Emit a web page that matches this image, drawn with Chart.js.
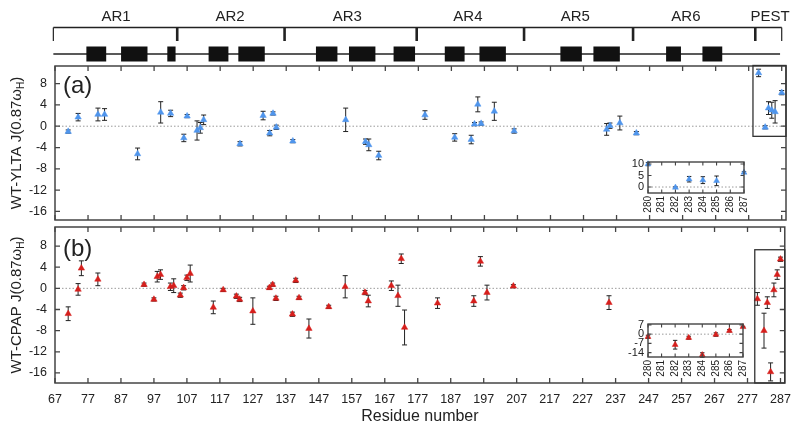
<!DOCTYPE html>
<html>
<head>
<meta charset="utf-8">
<script src="https://cdn.jsdelivr.net/npm/chart.js@4.4.1/dist/chart.umd.min.js"></script>
<style>
  html, body { margin: 0; padding: 0; background: #fff; }
  #wrap { position: relative; width: 800px; height: 430px; overflow: hidden; }
  canvas { position: absolute; left: 0; top: 0; }
</style>
</head>
<body>
<div id="wrap">
  <canvas id="cA" width="800" height="430"></canvas>
  <canvas id="cB" width="800" height="430"></canvas>
  <canvas id="iA" width="800" height="430"></canvas>
  <canvas id="iB" width="800" height="430"></canvas>
</div>
<script>
// ---------------- DATA ----------------
const xTickValues = [67, 77, 87, 97, 107, 117, 127, 137, 147, 157, 167, 177, 187, 197, 207, 217, 227, 237, 247, 257, 267, 277, 287];
const yTickValues = [-16, -12, -8, -4, 0, 4, 8];
const insetXTicks = [280, 281, 282, 283, 284, 285, 286, 287];
const insetATicks = [0, 5, 10];
const insetBTicks = [-14, -7, 0, 7];

// Panel (a): WT-YLTA
const ylResidue = [71, 74, 80, 82, 92, 99, 102, 106, 107, 110, 111, 112, 123, 130, 132, 133, 134, 139, 155, 161, 162, 165, 179, 188, 193, 194, 195, 196, 200, 206, 234, 235, 238, 243, 280, 282, 283, 284, 285, 287];
const ylValue   = [-1.0, 1.7, 2.2, 2.2, -5.2, 2.6, 2.4, -2.2, 1.9, -0.8, -0.3, 1.2, -3.3, 2.0, -1.3, 2.4, -0.2, -2.8, 1.2, -2.9, -3.5, -5.5, 2.1, -2.1, -2.5, 0.4, 4.1, 0.5, 2.8, -0.9, -0.6, 0.1, 0.6, -1.3, 10.0, -0.2, 3.4, 3.0, 2.7, 6.3];
const ylError   = [0.3, 0.7, 1.2, 1.1, 1.1, 2.0, 0.6, 0.7, 0.3, 1.8, 1.0, 0.9, 0.4, 0.8, 0.5, 0.3, 0.4, 0.3, 2.2, 0.5, 1.1, 0.8, 0.8, 0.7, 0.8, 0.3, 1.4, 0.3, 1.7, 0.4, 1.1, 0.5, 1.3, 0.3, 0.7, 0.3, 1.2, 1.5, 2.1, 0.4];

// Panel (b): WT-CPAP
const cpResidue = [71, 74, 75, 80, 94, 97, 98, 99, 102, 103, 105, 106, 107, 108, 115, 118, 122, 123, 127, 132, 133, 134, 139, 140, 141, 144, 150, 155, 161, 162, 169, 171, 172, 173, 183, 194, 196, 198, 206, 235, 280, 282, 283, 284, 285, 286, 287];
const cpValue   = [-4.8, -0.2, 3.8, 1.7, 0.7, -2.1, 2.2, 2.6, 0.3, 0.5, -1.3, 0.1, 2.0, 2.8, -3.6, -0.3, -1.5, -2.1, -4.3, 0.1, 0.7, -1.9, -4.9, 1.5, -1.8, -7.6, -3.5, 0.3, -0.8, -2.4, 0.5, -1.4, 5.6, -7.4, -2.8, -2.4, 5.1, -0.8, 0.4, -2.7, -2.0, -8.0, -2.7, -15.8, -0.3, 2.6, 5.5];
const cpError   = [1.3, 1.1, 1.4, 1.2, 0.3, 0.3, 1.0, 0.9, 0.7, 1.3, 0.4, 0.4, 0.5, 1.6, 1.2, 0.3, 0.4, 0.4, 2.5, 0.3, 0.3, 0.4, 0.4, 0.4, 0.3, 1.8, 0.3, 2.1, 0.4, 1.1, 0.9, 2.0, 0.9, 3.3, 1.0, 1.0, 0.9, 1.4, 0.3, 1.3, 1.2, 3.3, 1.1, 1.7, 1.3, 0.9, 0.4];

// Domain diagram (residue numbers)
const domainNames   = ['AR1', 'AR2', 'AR3', 'AR4', 'AR5', 'AR6', 'PEST'];
const domainBounds  = [66.5, 104, 136.5, 176.5, 209, 242, 279, 287];
const domainLabelAt = [85.5, 120, 155.5, 192, 224.5, 258, 283.5];
const helixStart    = [76.5, 87, 101, 113.5, 122.5, 146, 156, 169.5, 185, 195.5, 220, 230, 252, 263];
const helixEnd      = [82.5, 95, 103.5, 119.5, 130.5, 152.5, 164, 176, 191, 203.5, 226.5, 238, 256.5, 269];
const backboneRange = [66.5, 286.5];

// ---------------- STYLE ----------------
const FONT = 'Liberation Sans, Arial, Helvetica, sans-serif';
Chart.defaults.font.family = FONT;
Chart.defaults.color = '#222';
const BLUE = '#4f95ec';
const RED = '#d61f1c';
const FRAME = '#444';

function toPoints(xs, ys) { return xs.map((x, i) => ({ x: x, y: ys[i] })); }
function fixedTicks(arr) { return s => { s.ticks = arr.map(v => ({ value: v })); }; }

// Frame + inward ticks on all four sides
const framePlugin = {
  id: 'frame',
  afterDraw(chart, args, o) {
    const { ctx, chartArea: a } = chart;
    const x = chart.scales.x, y = chart.scales.y;
    ctx.save();
    ctx.strokeStyle = FRAME;
    ctx.lineWidth = o.lw || 1.5;
    ctx.strokeRect(a.left, a.top, a.right - a.left, a.bottom - a.top);
    const L = o.tick || 5;
    ctx.lineWidth = o.tlw || 1.3;
    ctx.beginPath();
    x.ticks.forEach(t => {
      const p = x.getPixelForValue(t.value);
      ctx.moveTo(p, a.bottom); ctx.lineTo(p, a.bottom - L);
      ctx.moveTo(p, a.top); ctx.lineTo(p, a.top + L);
    });
    y.ticks.forEach(t => {
      const p = y.getPixelForValue(t.value);
      ctx.moveTo(a.left, p); ctx.lineTo(a.left + L, p);
      ctx.moveTo(a.right, p); ctx.lineTo(a.right - L, p);
    });
    ctx.stroke();
    // optional boxes given in data coordinates
    (o.boxes || []).forEach(b => {
      const x1 = x.getPixelForValue(b[0]), x2 = x.getPixelForValue(b[1]);
      const y1 = y.getPixelForValue(b[2]), y2 = y.getPixelForValue(b[3]);
      ctx.lineWidth = 1.3;
      ctx.strokeStyle = '#333';
      ctx.strokeRect(x1, Math.min(y1, y2), x2 - x1, Math.abs(y2 - y1));
    });
    // panel label
    if (o.label) {
      ctx.fillStyle = '#222';
      ctx.font = '24px ' + FONT;
      ctx.textAlign = 'left';
      ctx.textBaseline = 'alphabetic';
      ctx.fillText(o.label, a.left + 8, a.top + o.labelDy);
    }
    // y title with subscript
    if (o.ytitle) {
      const cy = (a.top + a.bottom) / 2;
      ctx.translate(o.ytitleX, cy);
      ctx.rotate(-Math.PI / 2);
      ctx.fillStyle = '#222';
      ctx.textBaseline = 'middle';
      ctx.textAlign = 'left';
      const mainF = '15px ' + FONT, subF = '10px ' + FONT;
      ctx.font = mainF; const w1 = ctx.measureText(o.ytitle[0]).width;
      const w3 = ctx.measureText(o.ytitle[2]).width;
      ctx.font = subF; const w2 = ctx.measureText(o.ytitle[1]).width;
      let sx = -(w1 + w2 + w3) / 2;
      ctx.font = mainF; ctx.fillText(o.ytitle[0], sx, 0); sx += w1;
      ctx.font = subF; ctx.fillText(o.ytitle[1], sx, 4); sx += w2;
      ctx.font = mainF; ctx.fillText(o.ytitle[2], sx, 0);
    }
    ctx.restore();
  }
};

// Dotted zero line + error bars (drawn under the markers)
const errPlugin = {
  id: 'errbars',
  beforeDatasetsDraw(chart) {
    const { ctx, chartArea: a } = chart;
    const x = chart.scales.x, y = chart.scales.y;
    ctx.save();
    const y0 = y.getPixelForValue(0);
    ctx.strokeStyle = '#9a9a9a';
    ctx.lineWidth = 1;
    ctx.setLineDash([1.5, 2]);
    ctx.beginPath(); ctx.moveTo(a.left, y0); ctx.lineTo(a.right, y0); ctx.stroke();
    ctx.setLineDash([]);
    ctx.strokeStyle = '#222';
    ctx.lineWidth = 1;
    chart.data.datasets.forEach((ds, i) => {
      const errs = ds.errors || [];
      ds.data.forEach((d, j) => {
        const e = errs[j];
        if (!e) return;
        const px = x.getPixelForValue(d.x);
        const t = y.getPixelForValue(d.y + e), b = y.getPixelForValue(d.y - e);
        const c = ds.capHalf || 2.5;
        ctx.beginPath();
        ctx.moveTo(px, t); ctx.lineTo(px, b);
        ctx.moveTo(px - c, t); ctx.lineTo(px + c, t);
        ctx.moveTo(px - c, b); ctx.lineTo(px + c, b);
        ctx.stroke();
      });
    });
    ctx.restore();
  }
};

// Domain / secondary-structure diagram above panel (a)
const domainPlugin = {
  id: 'domains',
  afterDraw(chart) {
    const { ctx } = chart;
    const x = chart.scales.x;
    const X = v => x.getPixelForValue(v);
    ctx.save();
    ctx.fillStyle = '#222';
    ctx.font = '15px ' + FONT;
    ctx.textAlign = 'center';
    ctx.textBaseline = 'alphabetic';
    domainNames.forEach((n, i) => ctx.fillText(n, X(domainLabelAt[i]), 20.5));
    ctx.strokeStyle = '#222';
    ctx.lineWidth = 1.4;
    const yb = 27.5;
    ctx.beginPath();
    ctx.moveTo(X(domainBounds[0]), yb); ctx.lineTo(X(domainBounds[domainBounds.length - 1]), yb);
    ctx.stroke();
    domainBounds.forEach((v, i) => {
      const edge = (i === 0 || i === domainBounds.length - 1);
      ctx.lineWidth = edge ? 1.2 : 2.6;
      ctx.beginPath(); ctx.moveTo(X(v), yb); ctx.lineTo(X(v), 41); ctx.stroke();
    });
    ctx.lineWidth = 1.4;
    ctx.beginPath(); ctx.moveTo(X(backboneRange[0]), 54); ctx.lineTo(X(backboneRange[1]), 54); ctx.stroke();
    ctx.fillStyle = '#111';
    helixStart.forEach((s, i) => {
      const x1 = X(s), x2 = X(helixEnd[i]);
      ctx.fillRect(x1, 46.5, x2 - x1, 15);
    });
    ctx.restore();
  }
};

function scatterSet(xs, ys, es, color, r) {
  return {
    data: toPoints(xs, ys),
    errors: es,
    pointStyle: 'triangle',
    pointRadius: r,
    backgroundColor: color,
    borderColor: color,
    borderWidth: 0.5,
    showLine: false,
    clip: false
  };
}

function mainChart(id, xs, ys, es, color, cfg) {
  return new Chart(document.getElementById(id), {
    type: 'scatter',
    data: { datasets: [scatterSet(xs, ys, es, color, 3.7)] },
    plugins: cfg.plugins,
    options: {
      responsive: false,
      animation: false,
      events: [],
      layout: { padding: cfg.padding },
      plugins: {
        legend: { display: false },
        tooltip: { enabled: false },
        frame: { tick: 5, lw: 1.5, boxes: cfg.boxes, label: cfg.label, labelDy: cfg.labelDy, ytitle: cfg.ytitle, ytitleX: 17 }
      },
      scales: {
        x: {
          type: 'linear', min: 67, max: 288.3,
          afterBuildTicks: fixedTicks(xTickValues),
          grid: { display: false, drawTicks: false },
          border: { display: false },
          ticks: { display: cfg.showX, padding: 9, font: { size: 12.5 }, maxRotation: 0, autoSkip: false },
          title: { display: cfg.showX, text: 'Residue number', font: { size: 16 }, padding: { top: 0, bottom: 4 } },
          afterFit: s => { s.height = cfg.xHeight; }
        },
        y: {
          type: 'linear', min: cfg.ymin, max: cfg.ymax,
          afterBuildTicks: fixedTicks(yTickValues),
          grid: { display: false, drawTicks: false },
          border: { display: false },
          ticks: { padding: 8, font: { size: 12.5 }, autoSkip: false },
          afterFit: s => { s.width = 55; }
        }
      }
    }
  });
}

function insetChart(id, xs, ys, es, color, cfg) {
  return new Chart(document.getElementById(id), {
    type: 'scatter',
    data: { datasets: [Object.assign(scatterSet(xs, ys, es, color, 3.4), { capHalf: 2.2 })] },
    plugins: [errPlugin, framePlugin],
    options: {
      responsive: false,
      animation: false,
      events: [],
      layout: { padding: cfg.padding },
      plugins: {
        legend: { display: false },
        tooltip: { enabled: false },
        frame: { tick: 3.5, lw: 1.4, tlw: 1.1 }
      },
      scales: {
        x: {
          type: 'linear', min: 280, max: 287,
          afterBuildTicks: fixedTicks(insetXTicks),
          grid: { display: false, drawTicks: false },
          border: { display: false },
          ticks: { padding: 3, font: { size: 10 }, minRotation: 90, maxRotation: 90, autoSkip: false },
          afterFit: s => { s.height = 30; }
        },
        y: {
          type: 'linear', min: cfg.ymin, max: cfg.ymax,
          afterBuildTicks: fixedTicks(cfg.yticks),
          grid: { display: false, drawTicks: false },
          border: { display: false },
          ticks: { padding: 4, font: { size: 11 }, autoSkip: false },
          afterFit: s => { s.width = 30; }
        }
      }
    }
  });
}

// Panel (a): chart area 55..786 x 66..220
mainChart('cA', ylResidue, ylValue, ylError, BLUE, {
  padding: { left: 0, right: 14, top: 66, bottom: 210 },
  xHeight: 0, showX: false, ymin: -17.6, ymax: 11.3,
  plugins: [errPlugin, framePlugin, domainPlugin],
  boxes: [[278.3, 288.3, -1.9, 11.4]],
  label: '(a)', labelDy: 26.5,
  ytitle: ['WT-YLTA J(0.87\u03c9', 'H', ')']
});

// Panel (b): chart area 55..786 x 227..383
mainChart('cB', cpResidue, cpValue, cpError, RED, {
  padding: { left: 0, right: 14, top: 227, bottom: 0 },
  xHeight: 47, showX: true, ymin: -17.9, ymax: 11.6,
  plugins: [errPlugin, framePlugin],
  boxes: [[279.2, 288.3, -17.9, 7.3]],
  label: '(b)', labelDy: 29,
  ytitle: ['WT-CPAP J(0.87\u03c9', 'H', ')']
});

// Inset (a): 648..744 x 162..193
insetChart('iA', ylResidue.slice(-6), ylValue.slice(-6), ylError.slice(-6), BLUE, {
  padding: { left: 618, right: 56, top: 162, bottom: 207 },
  ymin: -2.6, ymax: 10.9, yticks: insetATicks
});

// Inset (b): 648..743 x 324..357
insetChart('iB', cpResidue.slice(-7), cpValue.slice(-7), cpError.slice(-7), RED, {
  padding: { left: 618, right: 57, top: 324, bottom: 43 },
  ymin: -17.3, ymax: 7.7, yticks: insetBTicks
});
</script>
</body>
</html>
